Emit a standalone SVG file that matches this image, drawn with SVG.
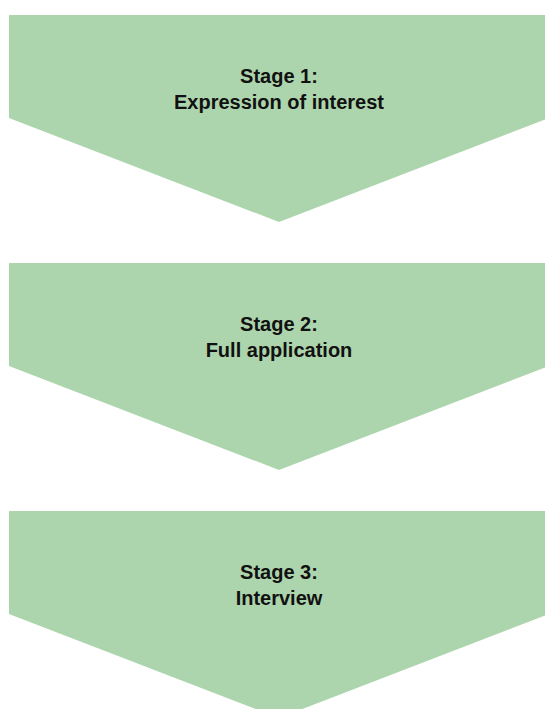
<svg xmlns="http://www.w3.org/2000/svg" width="545" height="709" viewBox="0 0 545 709">
<style>
.chev{fill:#add5ad;stroke:none}
.lbl{font-family:"Liberation Sans",Arial,sans-serif;font-weight:bold;font-size:20px;fill:#111;text-anchor:middle}
</style>
<rect width="545" height="709" fill="#fff"/>
<g id="connectors"/>
<g id="stage1">
<polygon class="chev" points="9,15 549,15 549,118 279,222 9,118"/>
<text class="lbl" x="279" y="83">Stage 1:</text>
<text class="lbl" x="279" y="109">Expression of interest</text>
</g>
<g id="stage2">
<polygon class="chev" points="9,263 549,263 549,366 279,470 9,366"/>
<text class="lbl" x="279" y="331">Stage 2:</text>
<text class="lbl" x="279" y="357">Full application</text>
</g>
<g id="stage3">
<polygon class="chev" points="9,511 549,511 549,614 279,718 9,614"/>
<text class="lbl" x="279" y="579">Stage 3:</text>
<text class="lbl" x="279" y="605">Interview</text>
</g>
</svg>
